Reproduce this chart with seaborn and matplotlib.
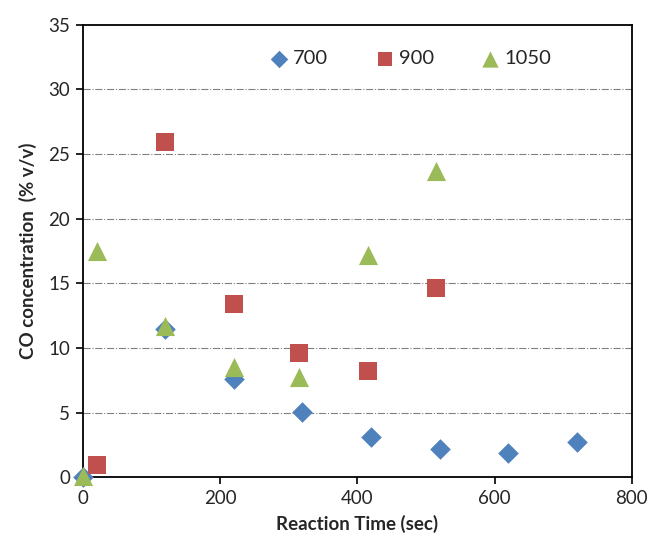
import pandas as pd
import numpy as np
import matplotlib.pyplot as plt
import seaborn as sns

# reaction time (sec) and CO concentration (% v/v) per temperature
time_700 = [0, 120, 220, 320, 420, 520, 620, 720]
co_700 = [0.0, 11.45, 7.6, 5.05, 3.1, 2.2, 1.9, 2.7]
time_900 = [20, 120, 220, 315, 415, 515]
co_900 = [0.95, 25.9, 13.4, 9.6, 8.25, 14.65]
time_1050 = [0, 20, 120, 220, 315, 415, 515]
co_1050 = [0.1, 17.5, 11.7, 8.5, 7.75, 17.2, 23.7]

series = ['700', '900', '1050']
colors = {'700': '#4F81BD', '900': '#C0504D', '1050': '#9BBB59'}
markers = {'700': 'D', '900': 's', '1050': '^'}
sizes = {'700': 110, '900': 150, '1050': 190}


def main():
    df = pd.concat([
        pd.DataFrame({'time': time_700, 'co': co_700, 'temp': '700'}),
        pd.DataFrame({'time': time_900, 'co': co_900, 'temp': '900'}),
        pd.DataFrame({'time': time_1050, 'co': co_1050, 'temp': '1050'}),
    ], ignore_index=True)

    sns.set_style('white')
    plt.rcParams['font.family'] = ['Lato', 'DejaVu Sans']

    fig = plt.figure(figsize=(6.52, 5.41), dpi=100)
    ax = fig.add_axes([0.127, 0.118, 0.842, 0.836])

    for t in series:
        sub = df[df['temp'] == t]
        sns.scatterplot(data=sub, x='time', y='co', ax=ax, color=colors[t],
                        marker=markers[t], s=sizes[t], linewidth=0,
                        label=t, zorder=3, clip_on=False)

    ax.set_xlim(0, 800)
    ax.set_ylim(0, 35)
    ax.set_xticks(range(0, 801, 200))
    ax.set_yticks(range(0, 36, 5))
    for yv in range(5, 31, 5):
        ax.axhline(yv, color='#808080', linestyle='-.', linewidth=0.8,
                   zorder=1)

    for sp in ax.spines.values():
        sp.set_color('black')
        sp.set_linewidth(1.3)
    ax.tick_params(axis='both', direction='out', length=5, width=1.2,
                   color='black', labelsize=13.5, pad=4)
    ax.tick_params(axis='x', bottom=True)
    ax.tick_params(axis='y', left=True)

    ax.set_xlabel('Reaction Time (sec)', fontsize=13.5, fontweight='bold',
                  labelpad=6)
    ax.set_ylabel('CO concentration  (% v/v)', fontsize=13.5,
                  fontweight='bold', labelpad=8)

    ax.legend(ncol=3, frameon=False, loc='upper center',
              bbox_to_anchor=(0.598, 0.985), fontsize=14.5,
              handlelength=0.8, handletextpad=0.3, columnspacing=2.4,
              markerscale=0.85)

    fig.savefig('out.png', dpi=100)


if __name__ == '__main__':
    main()
